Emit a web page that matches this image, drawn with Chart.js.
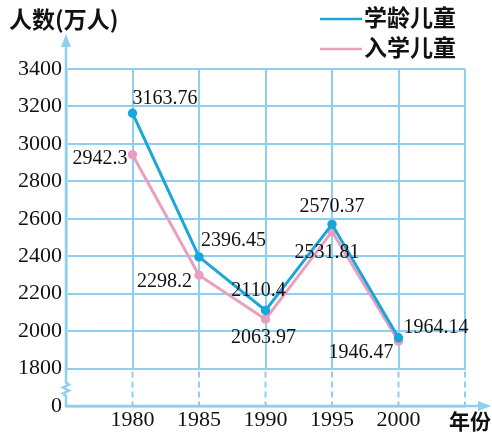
<!DOCTYPE html>
<html>
<head>
<meta charset="utf-8">
<script src="https://cdn.jsdelivr.net/npm/chart.js@4/dist/chart.umd.min.js"></script>
<style>
html,body{margin:0;padding:0;background:#fff;}
#wrap{width:492px;height:436px;position:relative;}
</style>
</head>
<body>
<div id="wrap"><canvas id="c" width="492" height="436"></canvas></div>
<script>
// ---- data ----
const years = [1980, 1985, 1990, 1995, 2000];
const schoolAgeChildren = [3163.76, 2396.45, 2110.4, 2570.37, 1964.14];
const enrolledChildren = [2942.3, 2298.2, 2063.97, 2531.81, 1946.47];
const seriesNames = ['学龄儿童', '入学儿童'];
const yTickLabels = ['0', '1800', '2000', '2200', '2400', '2600', '2800', '3000', '3200', '3400'];
const yAxisTitle = '人数(万人)';
const xAxisTitle = '年份';

// ---- style ----
const BLUE = '#1aa6d8';
const PINK = '#eb9fbe';
const GRID = '#8ecfee';
const SERIF = '"Liberation Serif", "DejaVu Serif", serif';
const CJK = '"Noto Sans CJK SC", sans-serif';
// label placement per point: [dx, dy, align]
const blueLabelPos = [[0,-14,'left'],[2,-16,'left'],[-7,-20,'center'],[0,-18,'center'],[5,-10,'left']];
const pinkLabelPos = [[-5,4,'right'],[-7,6,'right'],[-2,19,'center'],[-5,21,'center'],[-5,12,'right']];

const BREAK_VALUE = 1600; // axis break: "0" drawn at this position

const decorPlugin = {
  id: 'decor',
  beforeDatasetsDraw(chart) {
    const {ctx, chartArea: a, scales: {x, y}} = chart;
    const y1800 = y.getPixelForValue(1800);
    const y0 = y.getPixelForValue(BREAK_VALUE);
    ctx.save();
    ctx.fillStyle = '#fff';
    ctx.fillRect(a.left + 2, y1800 + 1.5, a.right - a.left + 2, y0 - y1800 - 3);
    ctx.strokeStyle = GRID;
    ctx.lineWidth = 2;
    ctx.setLineDash([6, 4]);
    x.ticks.forEach(t => {
      if (t.value <= 1975) return;
      const px = x.getPixelForValue(t.value);
      ctx.beginPath();
      ctx.moveTo(px, y1800 + 3);
      ctx.lineTo(px, y0 - 1);
      ctx.stroke();
    });
    ctx.setLineDash([]);
    ctx.lineWidth = 2.5;
    ctx.strokeStyle = GRID;
    const ax = a.left;
    const zTop = y1800 + 14, zBot = y1800 + 27;
    ctx.fillStyle = '#fff';
    ctx.fillRect(ax - 3, y1800 + 2, 6, y0 - y1800 - 4);
    ctx.beginPath();
    ctx.moveTo(ax, y0);
    ctx.lineTo(ax, zBot);
    ctx.lineTo(ax - 3, zBot - 2);
    ctx.lineTo(ax + 3, zBot - 5);
    ctx.lineTo(ax - 3, zBot - 8);
    ctx.lineTo(ax + 3, zBot - 11);
    ctx.lineTo(ax, zTop);
    ctx.lineTo(ax, a.top);
    ctx.lineTo(ax, 40);
    ctx.stroke();
    ctx.fillStyle = GRID;
    ctx.beginPath();
    ctx.moveTo(ax, 34);
    ctx.lineTo(ax - 5, 47);
    ctx.lineTo(ax + 5, 47);
    ctx.closePath();
    ctx.fill();
    ctx.beginPath();
    ctx.moveTo(ax, y0);
    ctx.lineTo(484, y0);
    ctx.stroke();
    ctx.beginPath();
    ctx.moveTo(491, y0);
    ctx.lineTo(478, y0 - 5);
    ctx.lineTo(478, y0 + 5);
    ctx.closePath();
    ctx.fill();
    ctx.restore();
  },
  afterDatasetsDraw(chart) {
    const {ctx} = chart;
    ctx.save();
    ctx.fillStyle = '#111';
    ctx.font = '20px ' + SERIF;
    ctx.textBaseline = 'middle';
    const pos = [blueLabelPos, pinkLabelPos];
    chart.data.datasets.forEach((ds, di) => {
      const meta = chart.getDatasetMeta(di);
      meta.data.forEach((pt, i) => {
        const [dx, dy, al] = pos[di][i];
        ctx.textAlign = al;
        ctx.fillText(String(ds.data[i].y), pt.x + dx, pt.y + dy);
      });
    });
    ctx.textAlign = 'left';
    ctx.font = 'bold 23px ' + CJK;
    ctx.fillText(yAxisTitle, 9, 19);
    ctx.font = 'bold 21px ' + CJK;
    ctx.fillText(xAxisTitle, 449, 421);
    chart.data.datasets.forEach((ds, di) => {
      const ly = 17 + di * 30;
      ctx.strokeStyle = ds.borderColor;
      ctx.lineWidth = 2.5;
      ctx.beginPath();
      ctx.moveTo(320, ly + 2);
      ctx.lineTo(362, ly + 2);
      ctx.stroke();
      ctx.fillStyle = '#111';
      ctx.font = 'bold 23px ' + CJK;
      ctx.fillText(ds.label, 364, ly);
    });
    ctx.restore();
  }
};

const toPoints = arr => arr.map((v, i) => ({x: years[i], y: v}));

new Chart(document.getElementById('c'), {
  type: 'line',
  data: {
    datasets: [
      {label: seriesNames[0], data: toPoints(schoolAgeChildren), borderColor: BLUE, backgroundColor: BLUE,
       borderWidth: 3, pointRadius: 3.2, pointHoverRadius: 3.2, tension: 0},
      {label: seriesNames[1], data: toPoints(enrolledChildren), borderColor: PINK, backgroundColor: PINK,
       borderWidth: 3, pointRadius: 3.2, pointHoverRadius: 3.2, tension: 0}
    ]
  },
  options: {
    responsive: false,
    animation: false,
    devicePixelRatio: 1,
    layout: {padding: {left: 0, top: 69, right: 27, bottom: 0}},
    plugins: {legend: {display: false}, tooltip: {enabled: false}},
    scales: {
      x: {
        type: 'linear', min: 1975, max: 2005,
        afterFit: s => { s.height = 30; },
        ticks: {stepSize: 5, color: '#111', font: {family: SERIF, size: 22}, padding: 1, maxRotation: 0,
                callback: v => years.includes(v) ? String(v) : ''},
        grid: {color: GRID, lineWidth: 2, drawTicks: false},
        border: {display: true, color: GRID, width: 2.5}
      },
      y: {
        type: 'linear', min: BREAK_VALUE, max: 3400,
        afterFit: s => { s.width = 66; },
        ticks: {stepSize: 200, color: '#111', font: {family: SERIF, size: 22}, padding: 4,
                callback: (v, i) => yTickLabels[i]},
        grid: {color: GRID, lineWidth: 2, drawTicks: false},
        border: {display: true, color: GRID, width: 2.5}
      }
    }
  },
  plugins: [decorPlugin]
});
</script>
</body>
</html>
